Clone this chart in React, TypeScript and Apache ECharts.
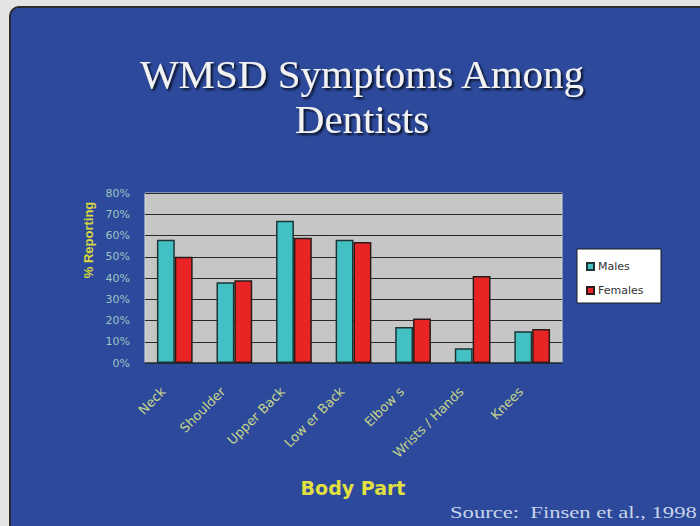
import React, { useEffect, useRef } from "react";
import * as echarts from "echarts";

const categories = ["Neck", "Shoulder", "Upper Back", "Low er Back", "Elbow s", "Wrists / Hands", "Knees"];
const males = [58, 38, 67, 58, 17, 7, 15];
const females = [50, 39, 59, 57, 21, 41, 16];
const yTicks = [0, 10, 20, 30, 40, 50, 60, 70, 80];

export default function App() {
  const ref = useRef<HTMLDivElement>(null);
  useEffect(() => {
    if (!ref.current) return;
    const chart = echarts.init(ref.current, null, { renderer: "svg" });
    const titleStyle = {
      fontFamily: "Liberation Serif",
      fontSize: 41,
      fill: "#f2f2f2",
      align: "center",
      verticalAlign: "middle",
      textShadowColor: "rgba(0,0,0,0.8)",
      textShadowBlur: 2,
      textShadowOffsetX: 2,
      textShadowOffsetY: 2,
    };
    chart.setOption({
      animation: false,
      backgroundColor: "#e4e4e4",
      graphic: [
        {
          type: "rect",
          z: -10,
          shape: { x: 10, y: 7, width: 720, height: 540, r: 9 },
          style: { fill: "#2c499b", stroke: "#2b2b2b", lineWidth: 2 },
        },
        { type: "text", x: 362, y: 74, style: { ...titleStyle, text: "WMSD Symptoms Among" } },
        { type: "text", x: 362, y: 119, style: { ...titleStyle, text: "Dentists" } },
        {
          type: "text",
          x: 88,
          y: 240,
          rotation: Math.PI / 2,
          style: {
            text: "% Reporting",
            fontFamily: "Liberation Sans",
            fontWeight: "bold",
            fontSize: 13,
            fill: "#d8d840",
            align: "center",
            verticalAlign: "middle",
          },
        },
        {
          type: "text",
          x: 353,
          y: 488,
          style: {
            text: "Body Part",
            fontFamily: "DejaVu Sans",
            fontWeight: "bold",
            fontSize: 19,
            fill: "#e0e040",
            align: "center",
            verticalAlign: "middle",
          },
        },
        {
          type: "text",
          x: 450,
          y: 512,
          scaleX: 1.33,
          style: {
            text: "Source:  Finsen et al., 1998",
            fontFamily: "Liberation Serif",
            fontSize: 17,
            fill: "#c8d4ea",
            align: "left",
            verticalAlign: "middle",
          },
        },
        {
          type: "rect",
          z: 5,
          shape: { x: 577, y: 249, width: 84, height: 54 },
          style: { fill: "#ffffff", stroke: "#1a1a1a", lineWidth: 1 },
        },
      ],
      legend: {
        orient: "vertical",
        left: 581,
        top: 256,
        itemWidth: 7,
        itemHeight: 7,
        itemGap: 13,
        icon: "rect",
        z: 6,
        textStyle: { fontFamily: "DejaVu Sans", fontSize: 11, color: "#333", padding: [0, 0, 0, -1] },
        data: ["Males", "Females"],
      },
      grid: {
        left: 145,
        top: 193,
        width: 417,
        height: 170,
        show: true,
        backgroundColor: "#c6c6c6",
        borderColor: "#dcdcdc",
        borderWidth: 1,
      },
      xAxis: {
        type: "category",
        data: categories,
        axisLine: { lineStyle: { color: "#1e2e3e", width: 1.5 } },
        axisTick: { inside: true, length: 3, lineStyle: { color: "#333" } },
        axisLabel: {
          rotate: 45,
          margin: 15,
          padding: [0, 16, 0, 0],
          fontFamily: "DejaVu Sans",
          fontSize: 13,
          color: "#c4d48c",
        },
      },
      yAxis: {
        type: "value",
        min: 0,
        max: 80,
        interval: 10,
        axisLine: { show: false },
        axisTick: { show: false },
        splitLine: { lineStyle: { color: "#2a2a2a", width: 1 } },
        axisLabel: {
          margin: 15,
          fontFamily: "DejaVu Sans",
          fontSize: 11,
          color: "#9cc4c4",
          formatter: (v: number) => (yTicks.includes(v) ? v + "%" : ""),
        },
      },
      series: [
        {
          name: "Males",
          type: "bar",
          data: males,
          barGap: "0%",
          barCategoryGap: "40%",
          itemStyle: { color: "#42c0c4", borderColor: "#1c3636", borderWidth: 1.5 },
        },
        {
          name: "Females",
          type: "bar",
          data: females,
          itemStyle: { color: "#e82424", borderColor: "#2a1a1a", borderWidth: 1.5 },
        },
      ],
    });
    return () => chart.dispose();
  }, []);
  return (
    <div
      ref={ref}
      style={{ position: "absolute", left: 0, top: 0, width: 700, height: 526 }}
    />
  );
}
